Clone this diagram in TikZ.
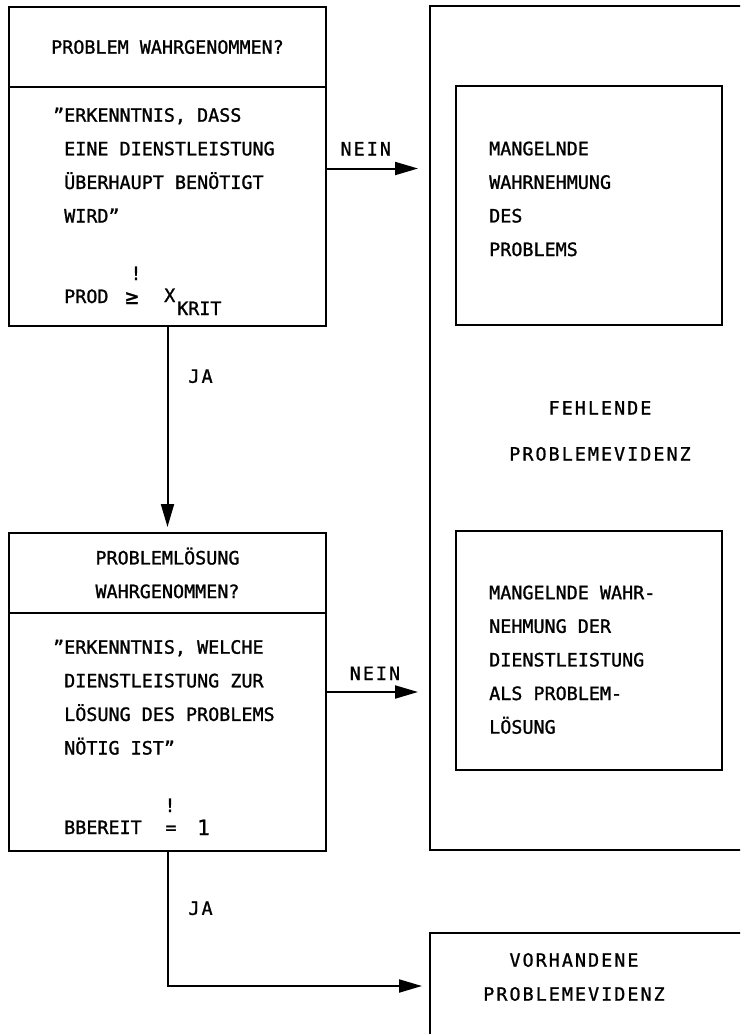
\documentclass[tikz,border=0pt]{standalone}
\usepackage{fontspec}
\newfontfamily\typefont[FakeBold=1.2]{DejaVu Sans Mono}
\newfontfamily\widefont[LetterSpace=11, FakeBold=1]{DejaVu Sans Mono}
\usepackage{tikz}
\usetikzlibrary{positioning, calc, arrows.meta}
\tikzset{
	blockbox/.style={draw, line width=2pt, inner sep=0pt, anchor=north west}
}
\tikzset{
	typetext/.style={font=\typefont\fontsize{18.4}{33.6}\selectfont, align=left, inner sep=0pt},
	plaintext/.style={font=\typefont\fontsize{18.4}{33.6}\selectfont, inner sep=0pt},
	widetext/.style={font=\widefont\fontsize{18.4}{34}\selectfont, align=center, inner sep=0pt}
}
\tikzset{
	flow/.style={->, line width=2pt, shorten >=11pt}
}

\begin{document}
\begin{tikzpicture}[x=1pt, y=-1pt, >={Triangle[length=23pt, width=13pt]}]
      \useasboundingbox (0,0) rectangle (740,1034);
      \clip (0,0) rectangle (740,1034);
      % first question: problem perceived?
      \node[blockbox, typetext, align=center, minimum width=317pt, minimum height=80pt] (head1) at (8,6) {PROBLEM WAHRGENOMMEN?};
      \node[blockbox, minimum width=317pt, minimum height=239pt] (body1) at (8,86) {};
      \node[typetext, anchor=north west] (text1) at (64,98) {\strut\llap{”}ERKENNTNIS, DASS\\EINE DIENSTLEISTUNG\\ÜBERHAUPT BENÖTIGT\\WIRD”};
      \node[plaintext, anchor=base west] (prod1) at (64,303) {PROD};
      \node[plaintext, anchor=base, font=\typefont\fontsize{22}{26}\selectfont] (rel1) at (132,304) {≥};
      \node[plaintext, anchor=base] (bang1) at (136,280) {!};
      \node[plaintext, anchor=base west] (xvar1) at (164,302) {X};
      \node[plaintext, anchor=base west] (krit1) at (177,315) {KRIT};
      % missing evidence frame with the two inner boxes
      \node[blockbox, minimum width=342pt, minimum height=844pt] (evid) at (429,5) {};
      \node[widetext, font=\widefont\fontsize{18.4}{46}\selectfont] (evtext) at (600,431) {FEHLENDE\\PROBLEMEVIDENZ};
      \node[blockbox, minimum width=266pt, minimum height=239pt] (mangel1) at (455,85) {};
      \node[typetext, anchor=north west] (mtext1) at (489,131.5) {\strut MANGELNDE\\WAHRNEHMUNG\\DES\\PROBLEMS};
      \node[blockbox, minimum width=266pt, minimum height=239pt] (mangel2) at (455,530) {};
      \node[typetext, anchor=north west] (mtext2) at (489,575.5) {\strut MANGELNDE WAHR-\\NEHMUNG DER\\DIENSTLEISTUNG\\ALS PROBLEM-\\LÖSUNG};
      % second question: solution perceived?
      \node[blockbox, typetext, align=center, minimum width=317pt, minimum height=80pt] (head2) at (8,532) {PROBLEMLÖSUNG\\WAHRGENOMMEN?};
      \node[blockbox, minimum width=317pt, minimum height=238pt] (body2) at (8,612) {};
      \node[typetext, anchor=north west] (text2) at (64,630) {\strut\llap{”}ERKENNTNIS, WELCHE\\DIENSTLEISTUNG ZUR\\LÖSUNG DES PROBLEMS\\NÖTIG IST”};
      \node[plaintext, anchor=base west] (bbereit) at (64,834) {BBEREIT};
      \node[plaintext, anchor=base] (rel2) at (171,834) {=};
      \node[plaintext, anchor=base] (bang2) at (170,812) {!};
      \node[plaintext, anchor=base west, font=\typefont\fontsize{21}{26}\selectfont] (one2) at (197,835) {1};
      % existing evidence
      \node[blockbox, minimum width=342pt, minimum height=106pt] (vorh) at (429,932) {};
      \node[widetext] (vtext) at (574,977) {VORHANDENE\\PROBLEMEVIDENZ};
      % yes / no branches
      \coordinate (nein1) at ($(body1.east)+(0,-38)$);
      \draw[flow] (nein1) -- (nein1 -| evid.west) node[widetext, pos=0.38, above=12pt] (lnein1) {NEIN};
      \coordinate (nein2) at ($(body2.east)+(0,-40)$);
      \draw[flow] (nein2) -- (nein2 -| evid.west) node[widetext, pos=0.47, above=11pt] (lnein2) {NEIN};
      \draw[flow, shorten >=5pt] (body1) -- (head2) node[widetext, pos=0.24, right=20pt] (lja1) {JA};
      \draw[flow, shorten >=7pt] (body2) |- (vorh) node[widetext, pos=0.21, right=20pt] (lja2) {JA};
\end{tikzpicture}
\end{document}
